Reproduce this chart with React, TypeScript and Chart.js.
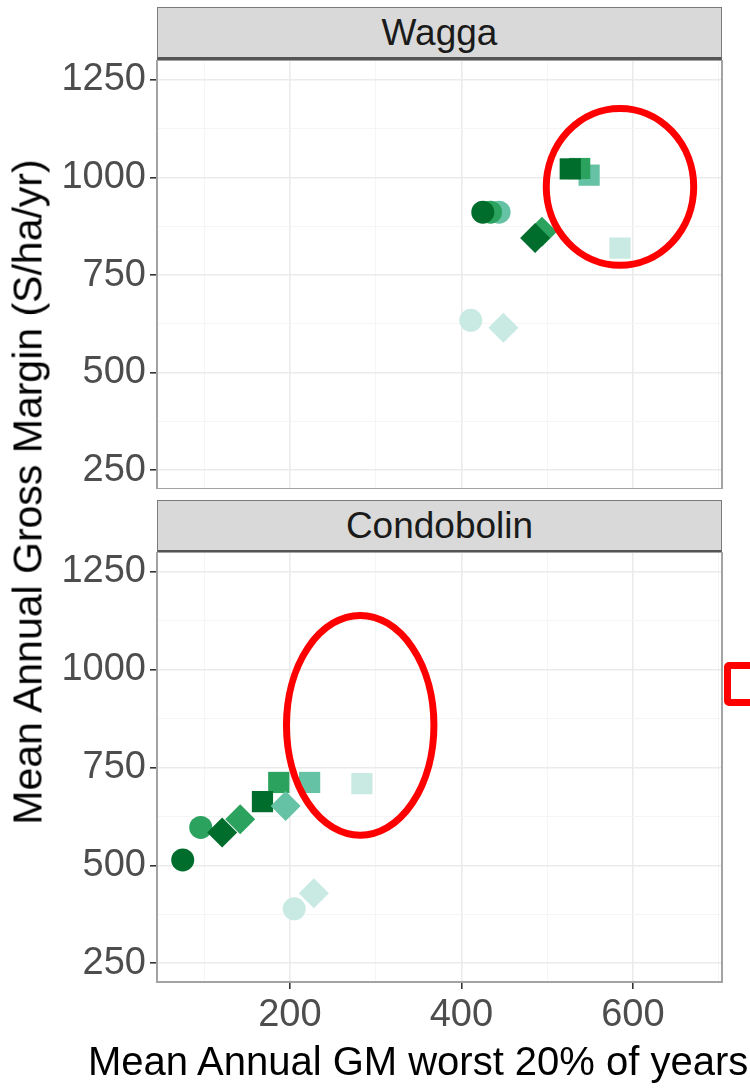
import React, { useEffect, useRef } from 'react';
import { Chart, registerables } from 'chart.js';

Chart.register(...registerables);

// ---- axis ranges and ticks ----
const X_MIN = 45;
const X_MAX = 704;
const Y_MIN = 202;
const Y_MAX = 1301;
const xMajorTicks = [200, 400, 600];
const xMinorTicks = [100, 300, 500, 700];
const yMajorTicks = [250, 500, 750, 1000, 1250];
const yMinorTicks = [375, 625, 875, 1125];

// ---- facets ----
const facetNames = ['Wagga', 'Condobolin'];
const xAxisTitle = 'Mean Annual GM worst 20% of years';
const yAxisTitle = 'Mean Annual Gross Margin (S/ha/yr)';

// ---- shades (lightest -> darkest) ----
const shadeColors = ['#c8eae3', '#66c2a4', '#2ca25f', '#006d2c'];

// ---- Wagga values, indexed by shade (lightest, light, medium, dark); null = not shown ----
const waggaSquareX = [585, 549, 538, 527];
const waggaSquareY = [819, 1006, 1023, 1022];
const waggaCircleX = [411, 444, 434, 425];
const waggaCircleY = [634, 911, 911, 911];
const waggaDiamondX = [449, null, 494, 486];
const waggaDiamondY = [615, null, 861, 845];

// ---- Condobolin values ----
const condoSquareX = [284, 223, 187, 168];
const condoSquareY = [709, 712, 712, 663];
const condoCircleX = [205, null, 96, 75];
const condoCircleY = [389, null, 597, 514];
const condoDiamondX = [228, 195, 142, 121];
const condoDiamondY = [429, 652, 618, 584];

// ---- red highlight ellipses (data units: centre x, centre y, radius x, radius y) ----
const waggaEllipse = [585, 976, 86, 201];
const condoEllipse = [282, 858, 86, 281];

const FONT = '"Liberation Sans", Arial, Helvetica, sans-serif';

type Shape = { style: string; radius: number; xs: (number | null)[]; ys: (number | null)[] };

function buildDatasets(shapes: Shape[]) {
  const list: any[] = [];
  // drawing order: squares, circles, diamonds; each lightest -> dark
  shapes.forEach((s) => {
    shadeColors.forEach((c, i) => {
      const x = s.xs[i];
      const y = s.ys[i];
      if (x == null || y == null) return;
      list.push({
        data: [{ x, y }],
        pointStyle: s.style,
        pointRadius: s.radius,
        pointHoverRadius: s.radius,
        backgroundColor: c,
        borderColor: c,
        borderWidth: 0,
        showLine: false,
      });
    });
  });
  // Chart.js draws the first dataset on top
  return list.reverse();
}

const isMajor = (v: number, majors: number[]) => majors.includes(v);

function gridOpts(majors: number[]) {
  return {
    color: (ctx: any) => (ctx.tick && isMajor(ctx.tick.value, majors) ? '#ebebeb' : '#f4f4f4'),
    lineWidth: (ctx: any) => (ctx.tick && isMajor(ctx.tick.value, majors) ? 1.6 : 0.9),
    tickColor: (ctx: any) => (ctx.tick && isMajor(ctx.tick.value, majors) ? '#333333' : 'rgba(0,0,0,0)'),
    tickWidth: 1.6,
    tickLength: 7,
  };
}

const framePlugin = {
  id: 'panelFrame',
  afterDraw(chart: any) {
    const { ctx, chartArea: a } = chart;
    ctx.save();
    ctx.strokeStyle = '#a3a3a3';
    ctx.lineWidth = 2;
    ctx.strokeRect(a.left, a.top, a.right - a.left, a.bottom - a.top);
    ctx.restore();
  },
};

const ellipsePlugin = {
  id: 'redEllipse',
  afterDraw(chart: any, _args: any, opts: any) {
    const e = opts && opts.ellipse;
    if (!e) return;
    const xs = chart.scales.x;
    const ys = chart.scales.y;
    const cx = xs.getPixelForValue(e[0]);
    const cy = ys.getPixelForValue(e[1]);
    const rx = Math.abs(xs.getPixelForValue(e[0] + e[2]) - cx);
    const ry = Math.abs(ys.getPixelForValue(e[1] + e[3]) - cy);
    const ctx = chart.ctx;
    ctx.save();
    ctx.strokeStyle = '#ff0000';
    ctx.lineWidth = 7;
    ctx.beginPath();
    ctx.ellipse(cx, cy, rx, ry, 0, 0, Math.PI * 2);
    ctx.stroke();
    ctx.restore();
  },
};

function makeConfig(datasets: any[], showX: boolean, ellipse: number[]) {
  const allX = [...xMajorTicks, ...xMinorTicks].sort((a, b) => a - b);
  const allY = [...yMajorTicks, ...yMinorTicks].sort((a, b) => a - b);
  return {
    type: 'scatter' as const,
    data: { datasets },
    plugins: [framePlugin, ellipsePlugin],
    options: {
      responsive: false,
      animation: false,
      devicePixelRatio: 1,
      layout: { autoPadding: false, padding: { left: 0, right: 28, top: 0, bottom: 0 } },
      plugins: {
        legend: { display: false },
        tooltip: { enabled: false },
        redEllipse: { ellipse },
      },
      scales: {
        x: {
          type: 'linear',
          min: X_MIN,
          max: X_MAX,
          afterBuildTicks: (s: any) => {
            s.ticks = allX.map((v) => ({ value: v }));
          },
          ticks: {
            display: showX,
            autoSkip: false,
            maxRotation: 0,
            padding: 4,
            color: '#4d4d4d',
            font: { family: FONT, size: 38 },
            callback: (v: any) => (isMajor(v, xMajorTicks) ? String(v) : ''),
          },
          grid: { ...gridOpts(xMajorTicks), drawTicks: showX },
          border: { display: false },
          afterFit: (s: any) => {
            s.height = showX ? 106 : 0;
            s.paddingLeft = 0;
            s.paddingRight = 0;
          },
        },
        y: {
          type: 'linear',
          min: Y_MIN,
          max: Y_MAX,
          afterBuildTicks: (s: any) => {
            s.ticks = allY.map((v) => ({ value: v }));
          },
          ticks: {
            autoSkip: false,
            padding: 4,
            color: '#4d4d4d',
            font: { family: FONT, size: 38 },
            callback: (v: any) => (isMajor(v, yMajorTicks) ? String(v) : ''),
          },
          grid: gridOpts(yMajorTicks),
          border: { display: false },
          afterFit: (s: any) => {
            s.width = 157;
            s.paddingTop = 0;
            s.paddingBottom = 0;
          },
        },
      },
    },
  };
}

function Panel({ top, height, datasets, showX, ellipse }: any) {
  const ref = useRef<HTMLCanvasElement | null>(null);
  useEffect(() => {
    if (!ref.current) return;
    const chart = new Chart(ref.current, makeConfig(datasets, showX, ellipse) as any);
    return () => chart.destroy();
  }, []);
  return (
    <canvas
      ref={ref}
      width={750}
      height={height}
      style={{ position: 'absolute', left: 0, top, width: 750, height }}
    />
  );
}

function Strip({ top, label }: { top: number; label: string }) {
  return (
    <div
      style={{
        position: 'absolute',
        left: 157,
        top,
        width: 565,
        height: 53,
        boxSizing: 'border-box',
        background: '#d9d9d9',
        border: '1.5px solid #7a7a7a',
        borderBottom: '3px solid #555555',
        display: 'flex',
        alignItems: 'center',
        justifyContent: 'center',
        fontFamily: FONT,
        fontSize: 37,
        color: '#1a1a1a',
      }}
    >
      {label}
    </div>
  );
}

export default function App() {
  const waggaData = buildDatasets([
    { style: 'rect', radius: 15, xs: waggaSquareX, ys: waggaSquareY },
    { style: 'circle', radius: 11.5, xs: waggaCircleX, ys: waggaCircleY },
    { style: 'rectRot', radius: 15, xs: waggaDiamondX, ys: waggaDiamondY },
  ]);
  const condoData = buildDatasets([
    { style: 'rect', radius: 15, xs: condoSquareX, ys: condoSquareY },
    { style: 'circle', radius: 11.5, xs: condoCircleX, ys: condoCircleY },
    { style: 'rectRot', radius: 15, xs: condoDiamondX, ys: condoDiamondY },
  ]);
  return (
    <div
      style={{
        position: 'absolute',
        left: 0,
        top: 0,
        width: 750,
        height: 1088,
        background: '#ffffff',
        overflow: 'hidden',
        fontFamily: FONT,
      }}
    >
      <Strip top={7} label={facetNames[0]} />
      <Panel top={60} height={429} datasets={waggaData} showX={false} ellipse={waggaEllipse} />
      <Strip top={500} label={facetNames[1]} />
      <Panel top={552} height={536} datasets={condoData} showX={true} ellipse={condoEllipse} />
      <div
        style={{
          position: 'absolute',
          left: 28,
          top: 492,
          transform: 'translate(-50%, -50%) rotate(-90deg)',
          whiteSpace: 'nowrap',
          fontSize: 41,
          lineHeight: 1,
          color: '#000',
        }}
      >
        {yAxisTitle}
      </div>
      <div
        style={{
          position: 'absolute',
          left: 88,
          top: 1041,
          whiteSpace: 'nowrap',
          fontSize: 40,
          lineHeight: 1,
          color: '#000',
        }}
      >
        {xAxisTitle}
      </div>
      <div
        style={{
          position: 'absolute',
          left: 724,
          top: 662,
          width: 60,
          height: 44,
          boxSizing: 'border-box',
          border: '7px solid #ff0000',
          borderRadius: 5,
        }}
      />
    </div>
  );
}
